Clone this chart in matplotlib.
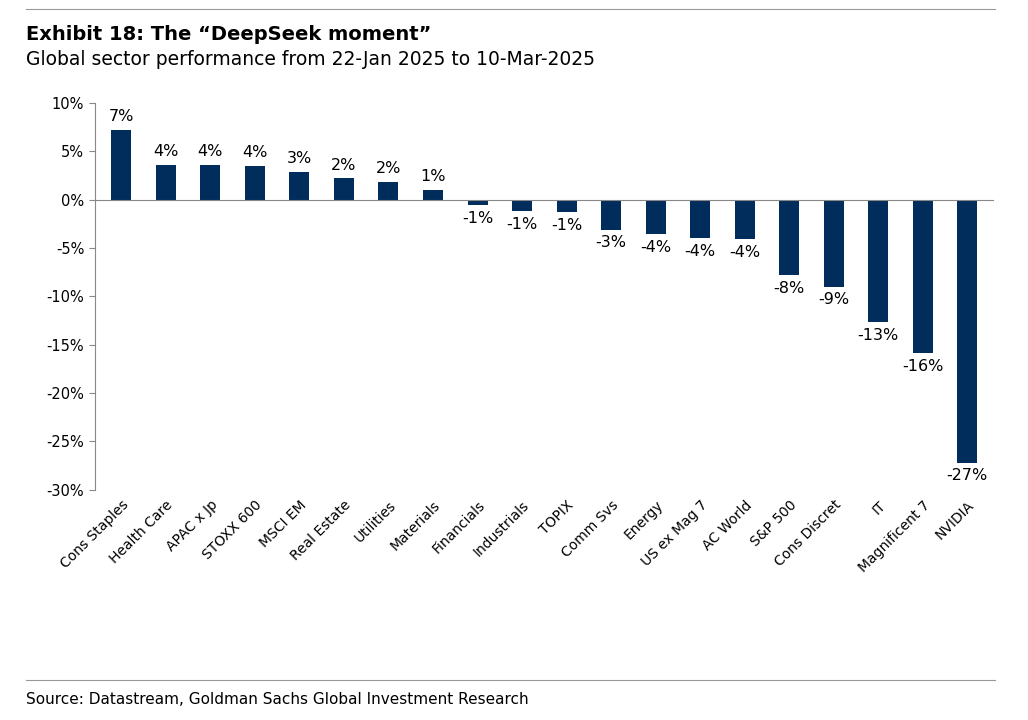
import matplotlib.pyplot as plt
from matplotlib.ticker import FuncFormatter

sectors = ['Cons Staples', 'Health Care', 'APAC x Jp', 'STOXX 600', 'MSCI EM', 'Real Estate',
           'Utilities', 'Materials', 'Financials', 'Industrials', 'TOPIX', 'Comm Svs', 'Energy',
           'US ex Mag 7', 'AC World', 'S&P 500', 'Cons Discret', 'IT', 'Magnificent 7', 'NVIDIA']
perf = [7.2, 3.6, 3.6, 3.5, 2.9, 2.2, 1.8, 1.0, -0.6, -1.2, -1.3, -3.1, -3.6,
        -4.0, -4.1, -7.8, -9.0, -12.7, -15.9, -27.2]

navy = '#002D5B'
fig = plt.figure(figsize=(10.28, 7.2), dpi=100)
ax = fig.add_axes([0.092, 0.32, 0.875, 0.537])

x = range(len(sectors))
ax.bar(x, perf, width=0.45, color=navy)
for i, v in enumerate(perf):
    if v >= 0:
        ax.text(i, v + 0.6, f'{v:.0f}%', ha='center', va='bottom', fontsize=11.5)
    else:
        ax.text(i, v - 0.6, f'{v:.0f}%', ha='center', va='top', fontsize=11.5)

ax.set_ylim(-30, 10)
ax.set_yticks(range(-30, 11, 5))
ax.yaxis.set_major_formatter(FuncFormatter(lambda v, p: f'{v:.0f}%'))
ax.set_xlim(-0.6, len(sectors) - 0.4)
ax.set_xticks(list(x))
ax.set_xticklabels(sectors, rotation=45, ha='right', rotation_mode='anchor', fontsize=10)
ax.tick_params(axis='x', length=0, pad=6)
ax.tick_params(axis='y', labelsize=10.5, direction='out', length=4, color='#888888')
ax.axhline(0, color='#888888', lw=0.8)
for s in ['top', 'right', 'bottom']:
    ax.spines[s].set_visible(False)
ax.spines['left'].set_color('#888888')

fig.add_artist(plt.Line2D([0.025, 0.968], [0.988, 0.988], color='#999999', lw=0.8))
fig.text(0.025, 0.965, 'Exhibit 18: The \u201cDeepSeek moment\u201d', fontsize=14,
         fontweight='bold', va='top')
fig.text(0.025, 0.93, 'Global sector performance from 22-Jan 2025 to 10-Mar-2025',
         fontsize=13.5, va='top')
fig.add_artist(plt.Line2D([0.025, 0.968], [0.055, 0.055], color='#999999', lw=0.8))
fig.text(0.025, 0.028, 'Source: Datastream, Goldman Sachs Global Investment Research',
         fontsize=11, va='center')

fig.savefig('out.png', dpi=100)
